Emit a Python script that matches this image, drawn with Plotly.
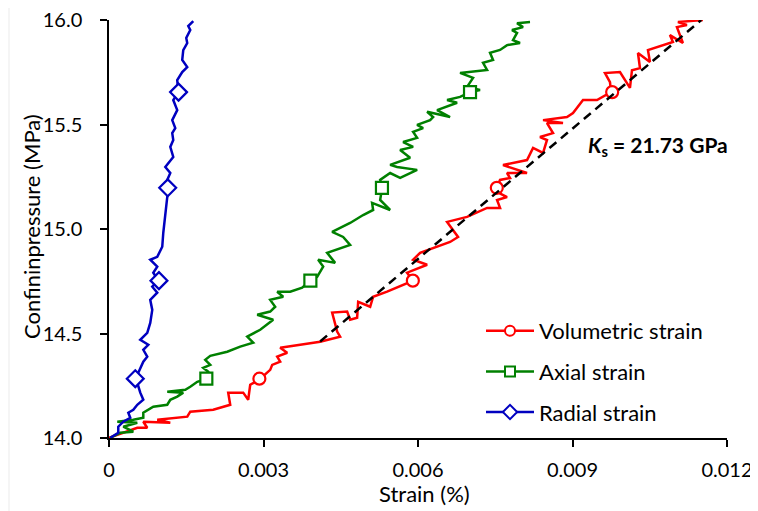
import plotly.graph_objects as go

# ---------------- data ----------------
vol_x = [0.000000, 0.000219, 0.000549, 0.000743, 0.000666, 0.001190, 0.000937, 0.001520, 0.001578, 0.002024,
         0.002354, 0.002315, 0.002606, 0.002703, 0.002742, 0.002917, 0.003130, 0.003169, 0.003324, 0.003266,
         0.003460, 0.003324, 0.003673, 0.004100, 0.004488, 0.004430, 0.004333, 0.004624, 0.004682, 0.004818,
         0.004838, 0.005071, 0.005129, 0.005400, 0.005905, 0.005788, 0.006177, 0.005905, 0.006041, 0.006371,
         0.006623, 0.006778, 0.006565, 0.006953, 0.007341, 0.007593, 0.007535, 0.007729, 0.007457, 0.007535,
         0.007593, 0.007787, 0.007729, 0.008117, 0.007651, 0.008117, 0.008234, 0.008428, 0.008505, 0.008369,
         0.008622, 0.008505, 0.008816, 0.008428, 0.008893, 0.009010, 0.009204, 0.009476, 0.009748, 0.009728,
         0.009631, 0.009922, 0.010116, 0.010155, 0.010310, 0.010271, 0.010504, 0.010465, 0.010640, 0.010950,
         0.010892, 0.011144, 0.011028, 0.011222, 0.011047, 0.011532]
vol_y = [14.001, 14.021, 14.049, 14.049, 14.078, 14.073, 14.087, 14.102, 14.126, 14.135,
         14.159, 14.217, 14.217, 14.183, 14.255, 14.279, 14.326, 14.350, 14.365, 14.389,
         14.408, 14.432, 14.446, 14.461, 14.485, 14.509, 14.600, 14.605, 14.566, 14.575,
         14.652, 14.628, 14.676, 14.700, 14.753, 14.791, 14.829, 14.853, 14.886, 14.915,
         14.938, 14.962, 15.034, 15.058, 15.101, 15.101, 15.139, 15.153, 15.187, 15.201,
         15.235, 15.244, 15.268, 15.268, 15.306, 15.330, 15.388, 15.364, 15.426, 15.440,
         15.459, 15.507, 15.507, 15.521, 15.536, 15.555, 15.617, 15.617, 15.655, 15.703,
         15.746, 15.751, 15.675, 15.760, 15.770, 15.842, 15.799, 15.856, 15.871, 15.895,
         15.928, 15.890, 15.966, 15.976, 15.990, 16.000]

axi_x = [0.000025, 0.000219, 0.000472, 0.000277, 0.000549, 0.000161, 0.000472, 0.000666, 0.000666, 0.000860,
         0.001131, 0.001190, 0.001325, 0.001442, 0.001131, 0.001481, 0.001578, 0.001714, 0.001888, 0.001927,
         0.001830, 0.001966, 0.001869, 0.001966, 0.002296, 0.002548, 0.002800, 0.002684, 0.002936, 0.003188,
         0.002878, 0.003130, 0.003227, 0.003130, 0.003382, 0.003266, 0.003518, 0.003751, 0.003906, 0.004042,
         0.004159, 0.004061, 0.004391, 0.004236, 0.004682, 0.004547, 0.004333, 0.004682, 0.004935, 0.005129,
         0.005109, 0.005459, 0.005265, 0.005303, 0.005265, 0.005459, 0.005653, 0.005983, 0.005594, 0.005459,
         0.005847, 0.005653, 0.005905, 0.005711, 0.005983, 0.005905, 0.006099, 0.005983, 0.006235, 0.006293,
         0.006177, 0.006623, 0.006371, 0.006565, 0.006759, 0.006565, 0.006817, 0.007011, 0.007205, 0.006953,
         0.007069, 0.006817, 0.007341, 0.007263, 0.007457, 0.007399, 0.007593, 0.007729, 0.007981, 0.007845,
         0.007923, 0.007826, 0.008039, 0.007923, 0.008175]
axi_y = [14.001, 14.025, 14.030, 14.054, 14.073, 14.078, 14.087, 14.097, 14.121, 14.150,
         14.159, 14.183, 14.198, 14.217, 14.221, 14.231, 14.245, 14.269, 14.283, 14.317,
         14.336, 14.350, 14.374, 14.393, 14.413, 14.437, 14.456, 14.485, 14.518, 14.566,
         14.590, 14.605, 14.628, 14.661, 14.676, 14.700, 14.700, 14.719, 14.753, 14.771,
         14.820, 14.853, 14.838, 14.886, 14.924, 14.962, 14.986, 15.029, 15.067, 15.091,
         15.125, 15.091, 15.139, 15.197, 15.235, 15.268, 15.245, 15.283, 15.297, 15.307,
         15.341, 15.378, 15.393, 15.416, 15.436, 15.465, 15.483, 15.498, 15.521, 15.536,
         15.561, 15.536, 15.569, 15.585, 15.604, 15.617, 15.632, 15.655, 15.665, 15.680,
         15.723, 15.747, 15.761, 15.795, 15.809, 15.843, 15.857, 15.880, 15.890, 15.904,
         15.938, 15.952, 15.966, 15.985, 15.990]

rad_x = [0.000025, 0.000180, 0.000180, 0.000277, 0.000413, 0.000375, 0.000472, 0.000549, 0.000666, 0.000607,
         0.000549, 0.000510, 0.000569, 0.000607, 0.000666, 0.000743, 0.000666, 0.000763, 0.000607, 0.000743,
         0.000801, 0.000840, 0.000801, 0.000937, 0.000840, 0.000957, 0.000860, 0.000937, 0.000801, 0.000937,
         0.000995, 0.001034, 0.001054, 0.001093, 0.001131, 0.001151, 0.001131, 0.001190, 0.001093, 0.001248,
         0.001190, 0.001248, 0.001228, 0.001287, 0.001228, 0.001325, 0.001248, 0.001345, 0.001325, 0.001422,
         0.001519, 0.001422, 0.001442, 0.001519, 0.001500, 0.001578, 0.001539, 0.001636]
rad_y = [14.001, 14.025, 14.054, 14.078, 14.097, 14.121, 14.135, 14.159, 14.183, 14.217,
         14.264, 14.283, 14.312, 14.336, 14.365, 14.389, 14.422, 14.446, 14.470, 14.503,
         14.551, 14.613, 14.661, 14.695, 14.724, 14.753, 14.791, 14.820, 14.853, 14.867,
         14.901, 14.915, 14.982, 15.058, 15.139, 15.197, 15.235, 15.268, 15.297, 15.345,
         15.393, 15.426, 15.459, 15.483, 15.521, 15.569, 15.617, 15.655, 15.713, 15.751,
         15.775, 15.809, 15.856, 15.890, 15.914, 15.952, 15.971, 15.995]

# marker points (every N-th sample shown with a symbol)
vol_mx = [0.00292, 0.00590, 0.00753, 0.00977]
vol_my = [14.284, 14.753, 15.197, 15.655]
axi_mx = [0.00189, 0.00391, 0.00530, 0.00701]
axi_my = [14.284, 14.753, 15.197, 15.655]
rad_mx = [0.00051, 0.00097, 0.00114, 0.00135]
rad_my = [14.284, 14.753, 15.197, 15.655]

# linear fit
fit_x = [0.00410, 0.01150]
fit_y = [14.462, 16.000]

x_ticks = [0, 0.003, 0.006, 0.009, 0.012]
x_tick_labels = ["0", "0.003", "0.006", "0.009", "0.012"]
y_ticks = [14.0, 14.5, 15.0, 15.5, 16.0]
y_tick_labels = ["14.0", "14.5", "15.0", "15.5", "16.0"]

names = ["Volumetric strain", "Axial strain", "Radial strain"]

# ---------------- figure ----------------
FONT = "Lato, 'Open Sans', sans-serif"
FS = 22
TFS = 20
RED, GREEN, BLUE = "#FF0000", "#008000", "#0000C0"

OFF = 8                      # page body margin of the html page
W, H = 758 - OFF, 511 - OFF
SL, ST, SR, SB = 109, 20, 727, 438   # plot area in screen pixels
L, T = SL - OFF, ST - OFF
R, B = (W + OFF) - SR, (H + OFF) - SB
PW, PH = SR - SL, SB - ST


def px(sx):
    return (sx - SL) / PW


def py(sy):
    return (SB - sy) / PH


fig = go.Figure()

series = [
    (vol_x, vol_y, vol_mx, vol_my, RED, "circle", 12, 10),
    (axi_x, axi_y, axi_mx, axi_my, GREEN, "square", 12, 10),
    (rad_x, rad_y, rad_mx, rad_my, BLUE, "diamond", 13, 11),
]

for i, (sx, sy, mx, my, col, sym, msize, lsize) in enumerate(series):
    fig.add_trace(go.Scatter(x=sx, y=sy, mode="lines",
                             line=dict(color=col, width=2.5),
                             showlegend=False, hoverinfo="skip"))
    fig.add_trace(go.Scatter(x=mx, y=my, mode="markers",
                             marker=dict(symbol=sym, size=msize, color="white",
                                         line=dict(color=col, width=2.2)),
                             showlegend=False, hoverinfo="skip"))

fig.add_trace(go.Scatter(x=fit_x, y=fit_y, mode="lines",
                         line=dict(color="black", width=2.5, dash="9px,6px"),
                         showlegend=False, hoverinfo="skip"))

for i, (sx, sy, mx, my, col, sym, msize, lsize) in enumerate(series):
    fig.add_trace(go.Scatter(x=[None], y=[None], mode="lines+markers", name=names[i],
                             legendgroup=f"g{i}",
                             line=dict(color=col, width=2.5),
                             marker=dict(symbol=sym, size=lsize, color="white",
                                         line=dict(color=col, width=2))))

fig.update_layout(
    width=W, height=H,
    margin=dict(l=L, r=R, t=T, b=B, autoexpand=False),
    paper_bgcolor="white", plot_bgcolor="white",
    font=dict(family=FONT, size=FS, color="#000000"),
    showlegend=True,
    legend=dict(x=px(481), y=py(310), xanchor="left", yanchor="top",
                bgcolor="rgba(0,0,0,0)", font=dict(size=FS, family=FONT),
                tracegroupgap=9, itemwidth=48),
    xaxis=dict(range=[0, 0.012], tickmode="array", tickvals=x_ticks, ticktext=x_tick_labels,
               showgrid=False, zeroline=False, showline=True, linecolor="black", linewidth=1.5,
               ticks="outside", ticklen=7, tickwidth=1.5, tickcolor="black",
               ticklabelstandoff=6, automargin=False, ticklabeloverflow="allow",
               tickfont=dict(size=TFS, family=FONT)),
    yaxis=dict(range=[14, 16.0001], tickmode="array", tickvals=y_ticks, ticktext=y_tick_labels,
               showgrid=False, zeroline=False, showline=True, linecolor="black", linewidth=1.5,
               ticks="outside", ticklen=7, tickwidth=1.5, tickcolor="black",
               ticklabelstandoff=14, automargin=False, ticklabeloverflow="allow",
               tickfont=dict(size=TFS, family=FONT)),
    annotations=[
        dict(text="<b><i>K</i><sub>s</sub> = 21.73 GPa</b>", xref="paper", yref="paper",
             x=px(586), y=py(146), xanchor="left", yanchor="middle",
             showarrow=False, font=dict(size=21, family=FONT)),
        dict(text="Strain (%)", xref="paper", yref="paper",
             x=px(424), y=py(493), xanchor="center", yanchor="middle",
             showarrow=False, font=dict(size=FS, family=FONT)),
        dict(text="Confininpressure (MPa)", xref="paper", yref="paper", textangle=-90,
             x=px(31), y=py(227), xanchor="center", yanchor="middle",
             showarrow=False, font=dict(size=FS, family=FONT)),
    ],
    shapes=[dict(type="line", xref="paper", yref="paper",
                 x0=px(9), x1=px(9), y0=-2, y1=2,
                 line=dict(color="#EBEBEB", width=1))],
)

fig.write_html("out.html")
